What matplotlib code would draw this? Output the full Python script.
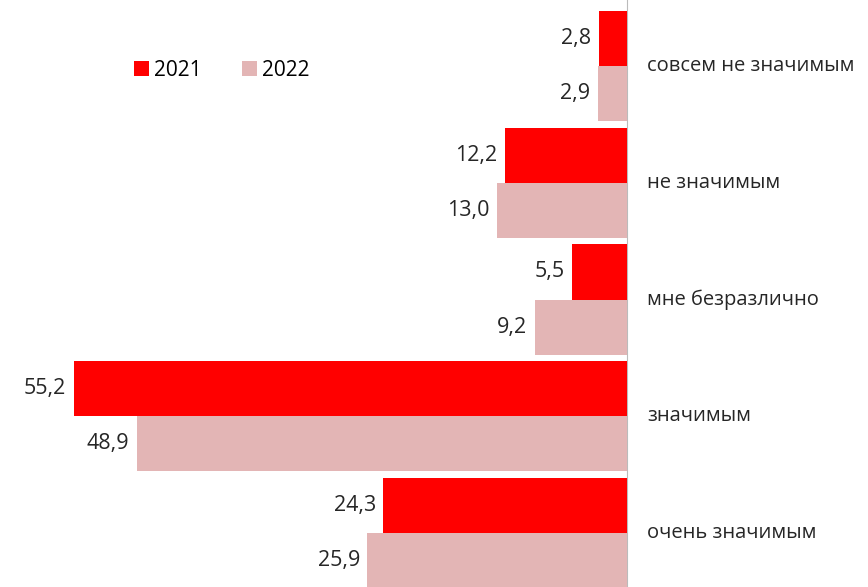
import numpy as np
import matplotlib
matplotlib.use("Agg")
import matplotlib.pyplot as plt

categories = ["совсем не значимым", "не значимым", "мне безразлично",
              "значимым", "очень значимым"]
vals_2021 = [2.8, 12.2, 5.5, 55.2, 24.3]
vals_2022 = [2.9, 13.0, 9.2, 48.9, 25.9]
series_names = ["2021", "2022"]

c2021 = "#FF0000"
c2022 = "#E3B5B5"

plt.rcParams['font.family'] = ['Open Sans', 'DejaVu Sans']

fig = plt.figure(figsize=(8.68, 5.87), dpi=100)
ax = fig.add_axes([0, 0, 1, 1])

y = np.arange(len(categories))
h = 0.472
b1 = ax.barh(y - h / 2, vals_2021, height=h, color=c2021, label=series_names[0])
b2 = ax.barh(y + h / 2, vals_2022, height=h, color=c2022, label=series_names[1])

def fmt(v):
    return "{:.1f}".format(v).replace(".", ",")

for bars, vals in ((b1, vals_2021), (b2, vals_2022)):
    for bar, v in zip(bars, vals):
        ax.text(v + 0.75, bar.get_y() + bar.get_height() / 2, fmt(v),
                ha="right", va="center", fontsize=15.5, color="#262626")

for i, cat in enumerate(categories):
    ax.text(-2.0, i, cat, ha="left", va="center", fontsize=14.5, color="#262626")

ax.set_xlim(62.57, -24.05)
ax.set_ylim(4.462, -0.565)
ax.axvline(0, color="#bbbbbb", lw=0.8, zorder=0)
for s in ax.spines.values():
    s.set_visible(False)
ax.set_xticks([])
ax.set_yticks([])

fig.legend(handles=[b1, b2], labels=series_names, loc="center left",
           bbox_to_anchor=(0.133, 0.88), ncol=2, frameon=False,
           fontsize=15, handlelength=0.7, handleheight=0.7,
           handletextpad=0.25, columnspacing=1.95)

fig.savefig("out.png", dpi=100)
